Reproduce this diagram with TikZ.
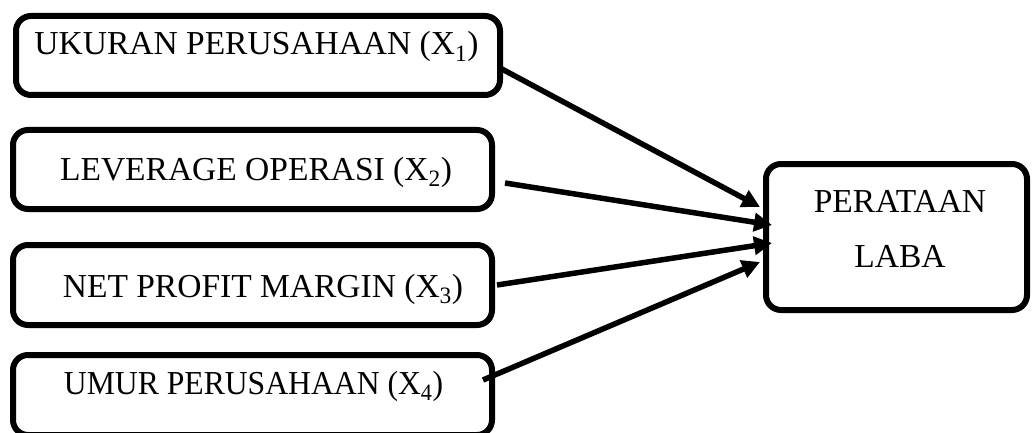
\documentclass[tikz,border=0pt]{standalone}
\usepackage{fontspec}
\setmainfont{Liberation Serif}
\usetikzlibrary{arrows.meta}
\begin{document}
\begin{tikzpicture}[x=1pt,y=-1pt,
  box/.style={draw=black,line width=6pt,rounded corners=15pt,rectangle,inner sep=0pt},
  lbl/.style={anchor=base,inner sep=0pt,font=\fontsize{33.5}{40}\selectfont},
  conn/.style={line width=5.5pt,-{Triangle[length=18pt,width=18pt]}}]
\useasboundingbox (0,0) rectangle (1033,433);
\clip (0,0) rectangle (1033,433);
\node[box,minimum width=484pt,minimum height=79pt] (b1) at (258,55.5) {};
\node[box,minimum width=479pt,minimum height=79pt] (b2) at (252.5,169.5) {};
\node[box,minimum width=479pt,minimum height=80pt] (b3) at (252.5,285) {};
\node[box,minimum width=479pt,minimum height=80pt] (b4) at (252.5,395) {};
\node[box,minimum width=261pt,minimum height=146pt] (y) at (896.5,237) {};
\node[lbl] (t1) at (256.5,55) {UKURAN PERUSAHAAN (X\textsubscript{1})};
\node[lbl] (t2) at (256,180) {LEVERAGE OPERASI (X\textsubscript{2})};
\node[lbl] (t3) at (263,297) {NET PROFIT MARGIN (X\textsubscript{3})};
\node[lbl,xscale=0.945] (t4) at (253.5,394) {UMUR PERUSAHAAN (X\textsubscript{4})};
\node[lbl] (ty1) at (900,212) {PERATAAN};
\node[lbl] (ty2) at (900,267) {LABA};
\draw[conn] ([xshift=-3pt,yshift=-12.5pt]b1.east) -- ([xshift=-3pt,yshift=30pt]y.west);
\draw[conn] ([xshift=10pt,yshift=-13.5pt]b2.east) -- ([xshift=9pt,yshift=12pt]y.west);
\draw[conn] ([xshift=2pt,yshift=0pt]b3.east) -- ([xshift=9pt,yshift=-6pt]y.west);
\draw[conn] ([xshift=-12pt,yshift=15pt]b4.east) -- ([xshift=-3pt,yshift=-25pt]y.west);
\end{tikzpicture}
\end{document}
